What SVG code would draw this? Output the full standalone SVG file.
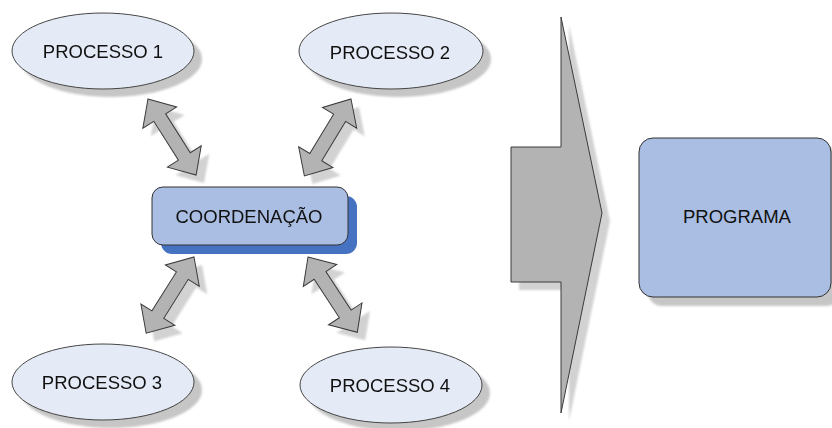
<svg xmlns="http://www.w3.org/2000/svg" width="832" height="428" viewBox="0 0 832 428">
  <style>
    .proc { fill: #e5ebf6; stroke: #444; stroke-width: 1; }
    .shadow { fill: #c6c6c6; }
    .coord { fill: #a9bee2; stroke: #333; stroke-width: 1; }
    .coord-shadow { fill: #4573c2; }
    .arrow { fill: #b3b3b3; stroke: #3a3a3a; stroke-width: 1; stroke-linejoin: miter; }
    .arrow-shadow { fill: #d2d2d2; }
    .label { font-family: "Liberation Sans", Arial, sans-serif; font-size: 18.5px; fill: #111; text-anchor: middle; }
  </style>
  <defs>
    <filter id="soft" x="-10%" y="-10%" width="120%" height="120%">
      <feGaussianBlur stdDeviation="0.8"/>
    </filter>
    <!-- double-headed arrow along +x, length 90 -->
    <polygon id="dbl" points="0,0 22,-20 22,-7 68,-7 68,-20 90,0 68,20 68,7 22,7 22,20"/>
  </defs>

  <rect width="832" height="428" fill="#ffffff"/>

  <g id="connectors">
    <!-- shadows -->
    <g class="arrow-shadow" filter="url(#soft)">
      <use href="#dbl" transform="translate(156,107) rotate(57.7)"/>
      <use href="#dbl" transform="translate(359,107) rotate(121.2)"/>
      <use href="#dbl" transform="translate(202,265) rotate(122.1)"/>
      <use href="#dbl" transform="translate(316,265) rotate(56.8)"/>
      <polygon points="519,155 569,155 569,25 610,221 569,421 569,290 519,290"/>
    </g>
    <g class="arrow">
      <use href="#dbl" transform="translate(148,99) rotate(57.7)"/>
      <use href="#dbl" transform="translate(351,99) rotate(121.2)"/>
      <use href="#dbl" transform="translate(194,257) rotate(122.1)"/>
      <use href="#dbl" transform="translate(308,257) rotate(56.8)"/>
      <polygon points="511,147 561,147 561,17 602,213 561,413 561,282 511,282"/>
    </g>
  </g>

  <g id="processo1">
    <ellipse class="shadow" filter="url(#soft)" cx="111" cy="59" rx="91" ry="38"/>
    <ellipse class="proc" cx="103" cy="51" rx="91" ry="38"/>
    <text class="label" x="103" y="57.5">PROCESSO 1</text>
  </g>

  <g id="processo2">
    <ellipse class="shadow" filter="url(#soft)" cx="399" cy="59" rx="92" ry="38"/>
    <ellipse class="proc" cx="391" cy="51" rx="92" ry="38"/>
    <text class="label" x="390" y="59">PROCESSO 2</text>
  </g>

  <g id="processo3">
    <ellipse class="shadow" filter="url(#soft)" cx="111" cy="390" rx="91" ry="38"/>
    <ellipse class="proc" cx="103" cy="382" rx="91" ry="38"/>
    <text class="label" x="102" y="389">PROCESSO 3</text>
  </g>

  <g id="processo4">
    <ellipse class="shadow" filter="url(#soft)" cx="399" cy="393" rx="91" ry="38"/>
    <ellipse class="proc" cx="391" cy="385" rx="91" ry="38"/>
    <text class="label" x="390" y="392">PROCESSO 4</text>
  </g>

  <g id="coordenacao">
    <rect class="coord-shadow" x="161" y="196" width="196" height="58" rx="11"/>
    <rect class="coord" x="152" y="187" width="196" height="58" rx="11"/>
    <text class="label" x="249" y="222.5">COORDENAÇÃO</text>
  </g>

  <g id="programa">
    <rect class="shadow" filter="url(#soft)" x="648" y="147" width="192" height="159" rx="14"/>
    <rect class="coord" x="639" y="138" width="192" height="159" rx="14"/>
    <text class="label" x="737" y="223">PROGRAMA</text>
  </g>
</svg>
